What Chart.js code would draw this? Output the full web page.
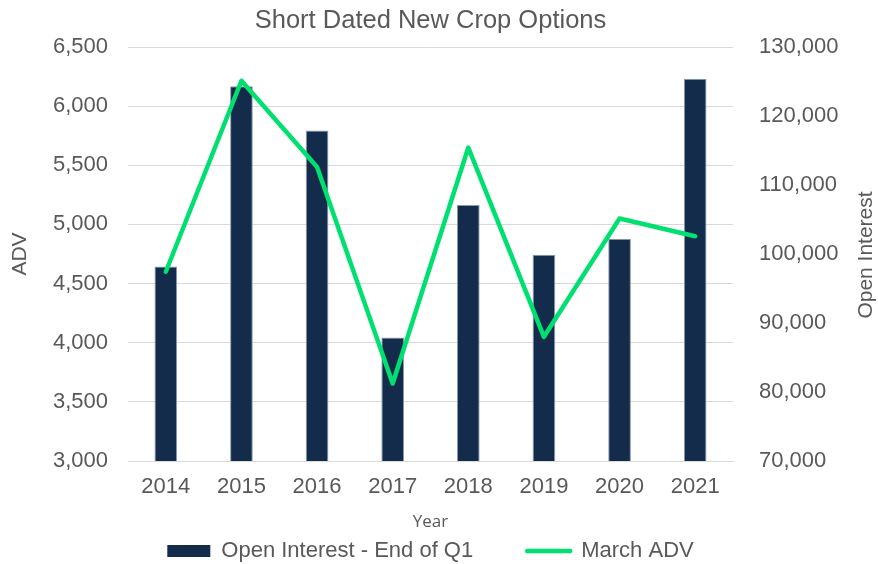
<!DOCTYPE html>
<html>
<head>
<meta charset="utf-8">
<script src="https://cdn.jsdelivr.net/npm/chart.js@4.4.1/dist/chart.umd.min.js"></script>
<style>
  html, body { margin: 0; padding: 0; background: #ffffff; }
  #wrap { width: 878px; height: 564px; position: relative; }
</style>
</head>
<body>
<div id="wrap"><canvas id="c"></canvas></div>
<script>
// ---- data ----
const years = ['2014', '2015', '2016', '2017', '2018', '2019', '2020', '2021'];
const openInterest = [98200, 124300, 117900, 87900, 107100, 99900, 102200, 125400];
const marchADV = [4600, 6215, 5485, 3655, 5650, 4050, 5050, 4900];
const chartTitle = 'Short Dated New Crop Options';
const seriesNames = ['Open Interest - End of Q1', 'March ADV'];
const axisTitles = { x: 'Year', left: 'ADV', right: 'Open Interest' };

// ---- style ----
const TEXT = '#595959';
const GRID = '#d9d9d9';
const BAR = '#132c4b';
const LINE = '#00e070';
const FONT = "'Liberation Sans', Arial, sans-serif";

Chart.defaults.font.family = FONT;
Chart.defaults.color = TEXT;

const fmt = v => Number(v).toLocaleString('en-US');

const rightTitlePlugin = {
  id: 'rightTitle',
  afterDraw(chart) {
    const ctx = chart.ctx;
    ctx.save();
    ctx.font = '21px ' + FONT;
    ctx.fillStyle = TEXT;
    ctx.textAlign = 'center';
    ctx.textBaseline = 'middle';
    ctx.translate(866, 255);
    ctx.rotate(-Math.PI / 2);
    ctx.fillText(axisTitles.right, 0, 0);
    ctx.restore();
  }
};

new Chart(document.getElementById('c'), {
  type: 'bar',
  data: {
    labels: years,
    datasets: [
      {
        type: 'line',
        label: seriesNames[1],
        data: marchADV,
        yAxisID: 'y',
        borderColor: LINE,
        backgroundColor: LINE,
        borderWidth: 4.5,
        borderCapStyle: 'round',
        borderJoinStyle: 'round',
        pointRadius: 0,
        tension: 0,
        order: 0
      },
      {
        type: 'bar',
        label: seriesNames[0],
        data: openInterest,
        yAxisID: 'y1',
        backgroundColor: BAR,
        borderColor: '#8a9ab0',
        borderWidth: 1,
        categoryPercentage: 1,
        barPercentage: 0.3,
        order: 1
      }
    ]
  },
  options: {
    responsive: true,
    maintainAspectRatio: false,
    animation: false,
    devicePixelRatio: 1,
    layout: { padding: { left: 0, right: 0, top: 0, bottom: -8 } },
    plugins: {
      tooltip: { enabled: false },
      title: {
        display: true,
        text: chartTitle,
        fullSize: false,
        color: TEXT,
        font: { size: 25.5, weight: 'normal', family: FONT },
        padding: { top: 6, bottom: 10.4 }
      },
      legend: {
        position: 'bottom',
        fullSize: false,
        labels: {
          color: TEXT,
          font: { size: 22, family: FONT },
          usePointStyle: true,
          pointStyleWidth: 43,
          boxHeight: 12,
          padding: 0,
          generateLabels(chart) {
            return [
              { text: seriesNames[0], fillStyle: BAR, strokeStyle: BAR, lineWidth: 0, pointStyle: 'rect', datasetIndex: 1, hidden: false, fontColor: TEXT },
              { text: '', fillStyle: 'rgba(0,0,0,0)', strokeStyle: 'rgba(0,0,0,0)', lineWidth: 0, pointStyle: 'rect', hidden: false, fontColor: TEXT },
              { text: seriesNames[1], fillStyle: LINE, strokeStyle: LINE, lineWidth: 4.5, lineCap: 'round', pointStyle: 'line', datasetIndex: 0, hidden: false, fontColor: TEXT }
            ];
          }
        }
      }
    },
    scales: {
      x: {
        grid: { display: false, drawTicks: false },
        border: { display: true, color: GRID, width: 1 },
        ticks: { color: TEXT, font: { size: 22 }, padding: 13, maxRotation: 0 },
        title: { display: true, text: axisTitles.x, color: TEXT, font: { size: 17, family: "'Open Sans', " + FONT }, padding: { top: 0, bottom: 8 } },
        afterFit(scale) { scale.height = 79; }
      },
      y: {
        position: 'left',
        min: 3000,
        max: 6500,
        grid: { color: GRID, lineWidth: 1, drawTicks: false },
        border: { display: false },
        ticks: { stepSize: 500, color: TEXT, font: { size: 22 }, padding: 20, callback: v => fmt(v) },
        title: { display: true, text: axisTitles.left, color: TEXT, font: { size: 21 }, padding: { top: 8, bottom: 0 } },
        afterFit(scale) { scale.width = 128; }
      },
      y1: {
        position: 'right',
        min: 70000,
        max: 130000,
        grid: { drawOnChartArea: false, drawTicks: false },
        border: { display: false },
        ticks: { stepSize: 10000, color: TEXT, font: { size: 22 }, padding: 26, callback: v => fmt(v) },
        afterFit(scale) { scale.width = 145; }
      }
    }
  },
  plugins: [rightTitlePlugin]
});
</script>
</body>
</html>
